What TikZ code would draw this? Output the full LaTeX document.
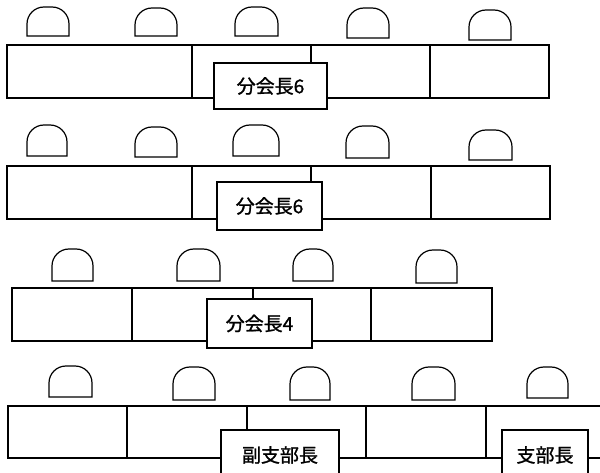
\documentclass[tikz,border=0pt]{standalone}
\usepackage{fontspec}
\newfontfamily\cjk[FakeBold=1.2]{Noto Sans CJK JP}
\begin{document}
\begin{tikzpicture}[x=1pt,y=-1pt,line width=1.2pt,
  chair/.style={line width=1.2pt},
  tablebox/.style={draw,line width=1.2pt},
  label/.style={draw,fill=white,line width=1.2pt,inner sep=0pt,font=\cjk\fontsize{19}{19}\selectfont}]
\clip (0,0) rectangle (600,473);
\fill[white] (0,0) rectangle (600,473);
\tikzset{pics/seat/.style args={#1/#2}{code={
  \draw[chair] (0,#2) [rounded corners=17pt] -- (0,0) -- (#1,0) [sharp corners] -- (#1,#2) -- cycle;}}}
% Row 1 chairs
\pic at (27,7) {seat=42/29};
\pic at (135,8) {seat=42/28};
\pic at (235,7) {seat=43/29};
\pic at (347,8) {seat=42/30};
\pic at (469,10) {seat=42/30};
% Row 1 table
\draw[tablebox] (7,45) rectangle (549,98);
\coordinate (t1a) at (192,45); \coordinate (b1a) at (192,98);
\coordinate (t1b) at (430,45); \coordinate (b1b) at (430,98);
\draw (t1a) -- (b1a); \draw (t1b) -- (b1b);
\node[label,minimum width=113pt,minimum height=46pt] (L1) at (270.5,86) {分会長6};
\coordinate (s1) at (311,45);
\draw (s1) -- (s1 |- L1.north);
% Row 2 chairs
\pic at (27,125) {seat=40/31};
\pic at (135,127) {seat=42/30};
\pic at (233,125) {seat=46/31};
\pic at (346,126) {seat=43/32};
\pic at (469,130) {seat=43/30};
% Row 2 table
\draw[tablebox] (7,166) rectangle (550,219);
\coordinate (t2a) at (192,166); \coordinate (b2a) at (192,219);
\coordinate (t2b) at (431,166); \coordinate (b2b) at (431,219);
\draw (t2a) -- (b2a); \draw (t2b) -- (b2b);
\node[label,minimum width=105pt,minimum height=48pt] (L2) at (269.5,206) {分会長6};
\coordinate (s2) at (311,166);
\draw (s2) -- (s2 |- L2.north);
% Row 3 chairs
\pic at (52,249) {seat=41/32};
\pic at (177,249) {seat=43/32};
\pic at (293,249) {seat=40/32};
\pic at (416,250) {seat=41/33};
% Row 3 table
\draw[tablebox] (12,288) rectangle (492,341);
\coordinate (t3a) at (132,288); \coordinate (b3a) at (132,341);
\coordinate (t3b) at (371,288); \coordinate (b3b) at (371,341);
\draw (t3a) -- (b3a); \draw (t3b) -- (b3b);
\node[label,minimum width=105pt,minimum height=49pt] (L3) at (259.5,323.5) {分会長4};
\coordinate (s3) at (253,288);
\draw (s3) -- (s3 |- L3.north);
% Row 4 chairs
\pic at (49,366) {seat=43/31};
\pic at (173,367) {seat=42/33};
\pic at (290,367) {seat=40/33};
\pic at (412,367) {seat=43/33};
\pic at (527,367) {seat=41/31};
% Row 4 table
\draw[tablebox] (8,406) rectangle (620,458);
\coordinate (t4a) at (127,406); \coordinate (b4a) at (127,458);
\coordinate (t4b) at (366,406); \coordinate (b4b) at (366,458);
\coordinate (t4c) at (486,406); \coordinate (b4c) at (486,458);
\draw (t4a) -- (b4a); \draw (t4b) -- (b4b); \draw (t4c) -- (b4c);
\node[label,minimum width=118pt,minimum height=50pt] (L4) at (280,455) {副支部長};
\node[label,minimum width=86pt,minimum height=50pt] (L5) at (545,455) {支部長};
\coordinate (s4) at (247,406);
\draw (s4) -- (s4 |- L4.north);
\end{tikzpicture}
\end{document}
